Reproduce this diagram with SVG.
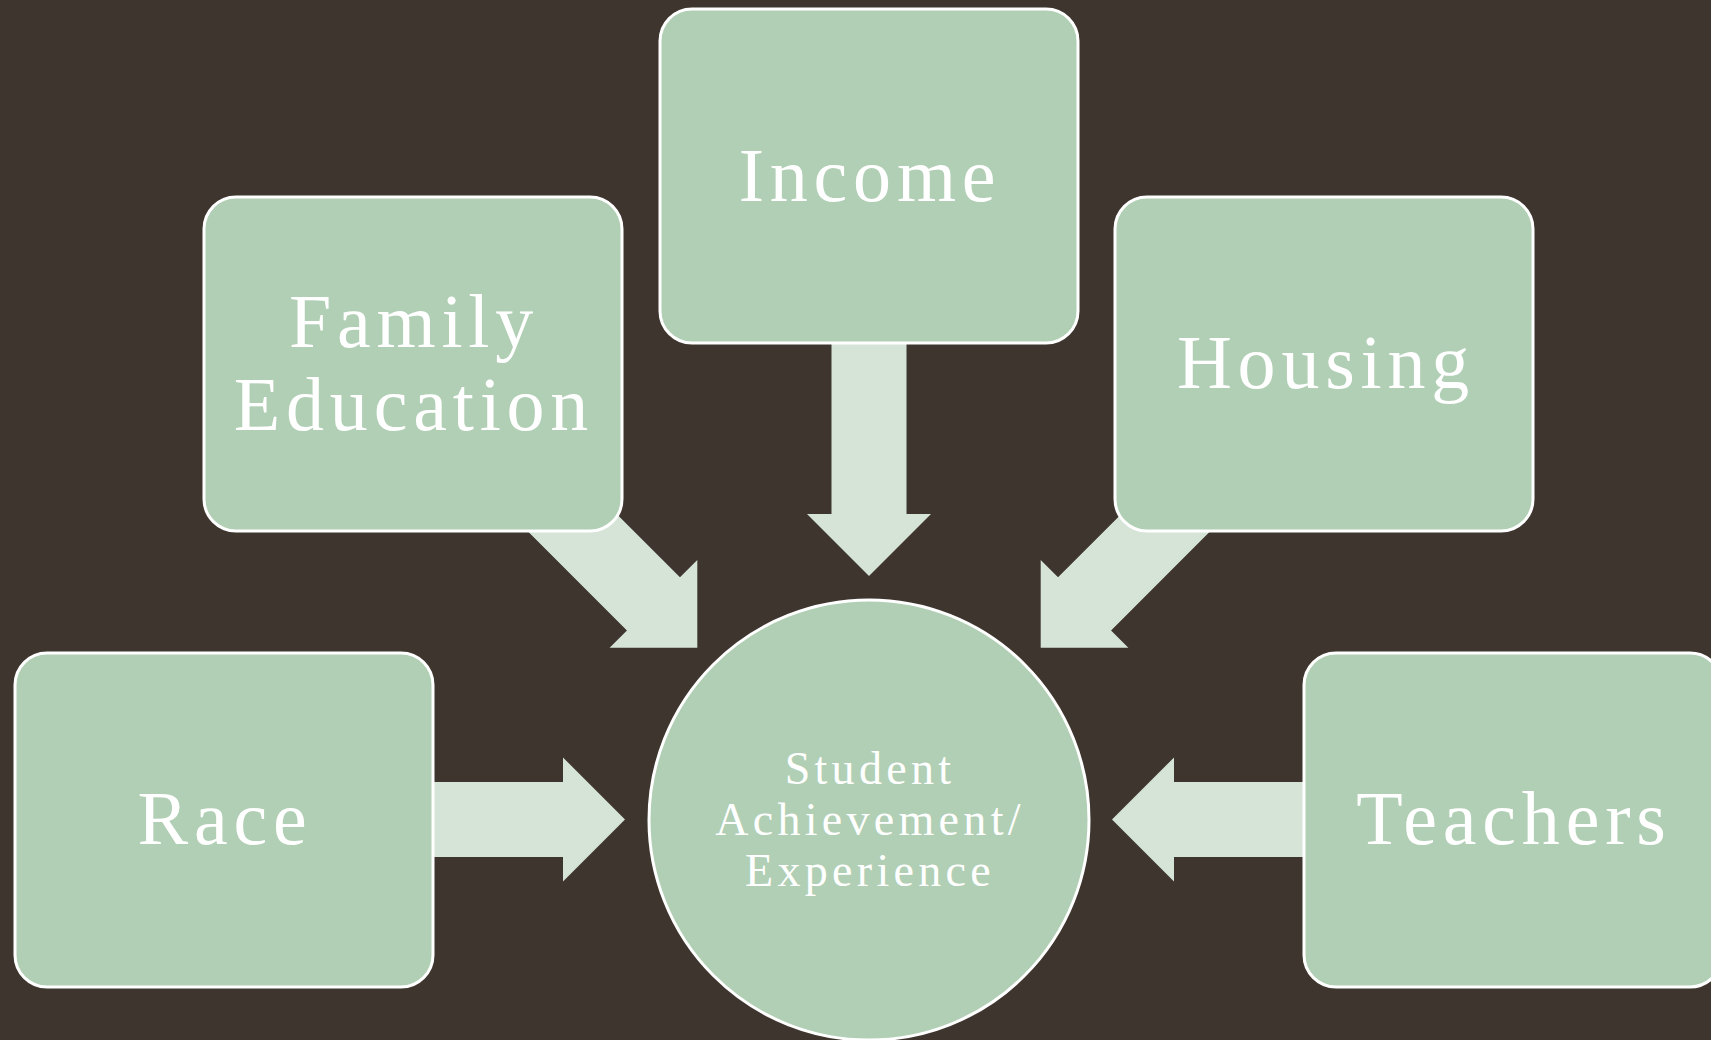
<svg xmlns="http://www.w3.org/2000/svg" width="1711" height="1040" viewBox="0 0 1711 1040">
<style>
.box{fill:#B1CFB5;stroke:#FFFFFF;stroke-width:3}
.arrow{fill:#D6E4D8}
.lbl{font-family:"Liberation Serif","Times New Roman",serif;fill:#FFFFFF;text-anchor:middle;font-size:76px;letter-spacing:5.8px}
.ctr{font-family:"Liberation Serif","Times New Roman",serif;fill:#FFFFFF;text-anchor:middle;font-size:46px;letter-spacing:4.3px}
</style>
<defs>
<path id="arr" d="M0,0 L-62,-62 L-62,-37.5 L-260,-37.5 L-260,37.5 L-62,37.5 L-62,62 Z"/>
</defs>
<rect x="0" y="0" width="1711" height="1040" fill="#3E362E"/>
<g id="connectors" class="arrow">
<use href="#arr" transform="translate(869,576) rotate(90)"/>
<use href="#arr" transform="translate(697.3,647.7) rotate(45)"/>
<use href="#arr" transform="translate(1040.7,647.7) rotate(135)"/>
<use href="#arr" transform="translate(625,819.5)"/>
<use href="#arr" transform="translate(1112,819.5) rotate(180)"/>
</g>
<g id="income">
<rect class="box" x="660" y="9" width="418" height="334" rx="32" ry="32"/>
<text class="lbl" x="870" y="201">Income</text>
</g>
<g id="family-education">
<rect class="box" x="204" y="197" width="418" height="334" rx="32" ry="32"/>
<text class="lbl" x="414" y="347">Family</text>
<text class="lbl" x="414" y="430">Education</text>
</g>
<g id="housing">
<rect class="box" x="1115" y="197" width="418" height="334" rx="32" ry="32"/>
<text class="lbl" x="1326" y="388">Housing</text>
</g>
<g id="race">
<rect class="box" x="15" y="653" width="418" height="334" rx="32" ry="32"/>
<text class="lbl" x="225" y="844">Race</text>
</g>
<g id="teachers">
<rect class="box" x="1304" y="653" width="418" height="334" rx="32" ry="32"/>
<text class="lbl" x="1514" y="844">Teachers</text>
</g>
<g id="student-achievement">
<circle class="box" cx="869" cy="820" r="220"/>
<text class="ctr" x="870" y="784">Student</text>
<text class="ctr" x="870" y="835">Achievement/</text>
<text class="ctr" x="870" y="886">Experience</text>
</g>
</svg>
